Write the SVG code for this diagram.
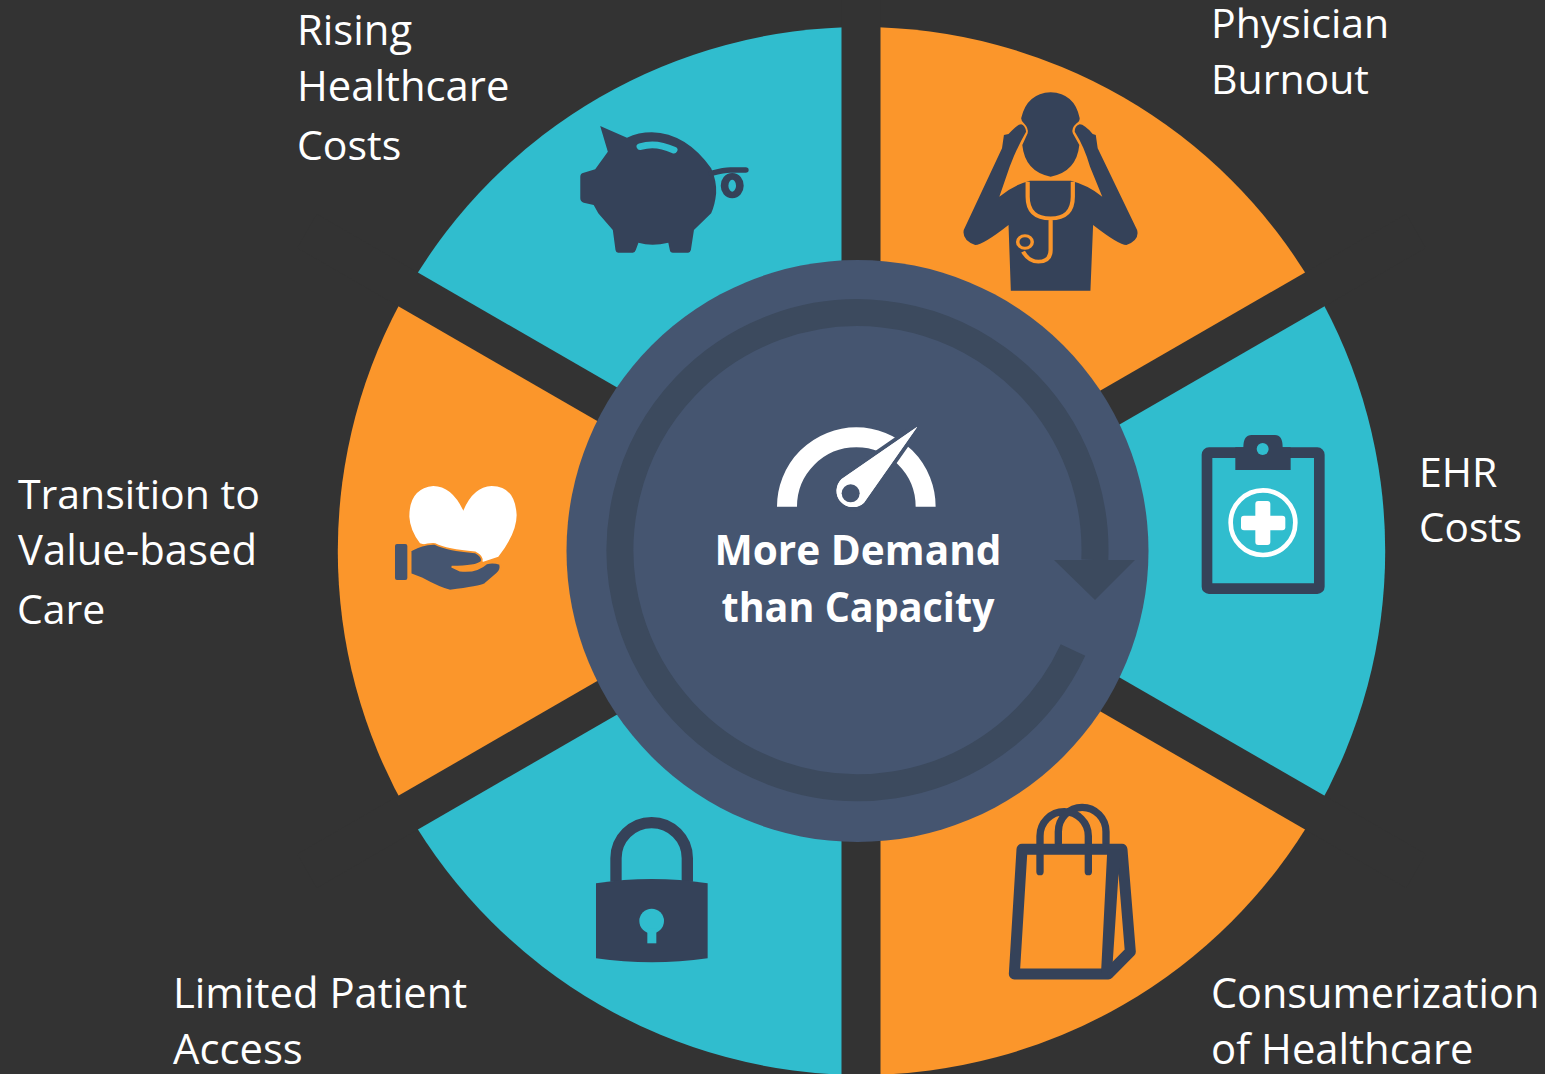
<svg xmlns="http://www.w3.org/2000/svg" width="1545" height="1074" viewBox="0 0 1545 1074">
<style>
text{font-family:"Open Sans","Noto Sans","Liberation Sans",sans-serif}
.lbl{font-size:41px;fill:#fff}
.wide{font-size:41.8px}
.ctr{font-size:41px;font-weight:700;fill:#fff;text-anchor:middle}
.teal{fill:#30BDCE}.org{fill:#FB962B}
.ink{fill:#354259}
.gap{stroke:#333;stroke-width:39}
</style>
<rect width="1545" height="1074" fill="#333"/>
<g id="wheel">
<path class="org" d="M861.5 27A524 524 0 0 1 1315 289L861.5 551Z"/>
<path class="teal" d="M1315 289A524 524 0 0 1 1315 813L861.5 551Z"/>
<path class="org" d="M1315 813A524 524 0 0 1 861.5 1075L861.5 551Z"/>
<path class="teal" d="M861.5 1075A524 524 0 0 1 408 813L861.5 551Z"/>
<path class="org" d="M408 813A524 524 0 0 1 408 289L861.5 551Z"/>
<path class="teal" d="M408 289A524 524 0 0 1 861.5 27L861.5 551Z"/>
<g class="gap"><line x1="861" y1="0" x2="861" y2="1074"/><line x1="307" y1="231" x2="1416" y2="871"/><line x1="307" y1="871" x2="1416" y2="231"/></g>
</g>
<g id="hub">
<circle cx="857.5" cy="551" r="291" fill="#455570"/>
<path d="M1094.8 560A237.5 237.500 0 1 0 1073 650" fill="none" stroke="#3C4A5E" stroke-width="27"/>
<path d="M1054 560H1135L1095 600Z" fill="#3C4A5E"/>
<g id="gauge" transform="translate(700 410) scale(.3333)">
<path d="M261 290A208 208 0 0 1 677 290" fill="none" stroke="#fff" stroke-width="60"/>
<path d="M652 50L425 207A48 48 0 1 0 492 278Z" fill="#fff" stroke="#455570" stroke-width="24" paint-order="stroke"/>
<path d="M652 50L425 207A48 48 0 1 0 492 278Z" fill="#fff"/>
<circle cx="452" cy="250" r="27" fill="#455570"/>
</g>
<text class="ctr" x="858" y="565" textLength="287" lengthAdjust="spacingAndGlyphs">More Demand</text>
<text class="ctr" x="858" y="622" textLength="273" lengthAdjust="spacingAndGlyphs">than Capacity</text>
</g>
<g id="node-costs">
<g transform="translate(560 90) scale(.3827 .3333)">
<path class="ink" d="M105 108L175 143Q205 127 240 127Q330 130 395 235Q410 275 408 310Q405 345 395 370L350 420L342 480Q340 488 335 488H295Q288 488 287 480L283 458Q240 470 205 458L198 480Q196 488 190 488H152Q146 488 145 480L138 420L100 370L88 345L62 338Q53 335 53 325V260Q53 250 62 248L92 238L125 185Z"/>
<path d="M210 170Q250 155 297 180" fill="none" stroke="#30BDCE" stroke-width="20" stroke-linecap="round"/>
<path d="M395 250Q430 240 445 240H485" fill="none" stroke="#354259" stroke-width="16" stroke-linecap="round"/>
<ellipse cx="450" cy="287" rx="20" ry="28" fill="none" stroke="#354259" stroke-width="20"/>
</g>
<text class="lbl wide" x="297" y="45">Rising</text><text class="lbl wide" x="297" y="101">Healthcare</text><text class="lbl" x="297" y="160">Costs</text>
</g>
<g id="node-burnout">
<g transform="translate(560 90) scale(.3827 .3333)">
<path class="ink" d="M1282 7Q1345 10 1358 85Q1358 95 1350 100Q1335 115 1340 130L1357 165Q1350 245 1282 260Q1215 245 1208 165L1222 130Q1225 115 1212 100Q1205 92 1205 85Q1220 10 1282 7Z"/>
<path class="ink" d="M1148 320L1175 230Q1195 170 1218 125Q1215 105 1205 103Q1195 103 1172 132L1160 135L1155 175L1055 420Q1050 450 1085 465Q1105 465 1172 405L1178 602H1386L1393 405Q1460 465 1480 465Q1515 450 1508 420L1405 175L1400 135L1392 132Q1370 103 1358 103Q1345 107 1345 125Q1370 170 1385 230L1417 320Q1380 285 1335 272H1228Q1185 285 1148 320Z"/>
<path d="M1222 275V320Q1222 385 1282 385Q1340 385 1340 320V275M1282 385V480Q1282 515 1250 515Q1225 515 1210 485" fill="none" stroke="#FB962B" stroke-width="11"/>
<circle cx="1215" cy="456" r="19" fill="#354259" stroke="#FB962B" stroke-width="9"/>
</g>
<text class="lbl" x="1211" y="38">Physician</text><text class="lbl" x="1211" y="94">Burnout</text>
</g>
<g id="node-ehr">
<g transform="translate(1180 420) scale(.3333)">
<rect x="81" y="98" width="337" height="408" rx="6" fill="none" stroke="#354259" stroke-width="32"/>
<path class="ink" d="M190 82Q190 45 215 45H285Q308 45 308 82H332V150H166V82Z"/>
<circle cx="248" cy="87" r="18" fill="#30BDCE"/>
<circle cx="249" cy="308" r="97" fill="none" stroke="#fff" stroke-width="14"/>
<rect x="183" y="287" width="133" height="44" rx="9" fill="#fff"/>
<rect x="226" y="243" width="45" height="132" rx="9" fill="#fff"/>
</g>
<text class="lbl" x="1419" y="487">EHR</text><text class="lbl" x="1419" y="542" style="font-size:40.6px">Costs</text>
</g>
<g id="node-consumerization">
<g transform="translate(990 790) scale(.3333)">
<path d="M205 160V125A71.500 73 0 0 1 348 125V160M150 245V138A72.500 73 0 0 1 295 138V245" fill="none" stroke="#354259" stroke-width="22" stroke-linecap="round"/>
<path d="M96 178H396L421 485L355 552H73Z" fill="none" stroke="#354259" stroke-width="33" stroke-linejoin="round"/>
<path class="ink" d="M352 178H400L385 262L368 520L350 552H333Z"/>
</g>
<text class="lbl" x="1211" y="1008" style="font-size:41.4px">Consumerization</text><text class="lbl wide" x="1211" y="1064">of Healthcare</text>
</g>
<g id="node-access">
<g transform="translate(580 800) scale(.3333)">
<path d="M108 245V175A107 107 0 0 1 322 175V245" fill="none" stroke="#354259" stroke-width="34"/>
<path class="ink" d="M48 250Q215 224 383 250V475Q215 499 48 475Z"/>
<circle cx="215" cy="363" r="37" fill="#30BDCE"/>
<rect x="202" y="385" width="27" height="45" fill="#30BDCE"/>
</g>
<text class="lbl wide" x="173" y="1008">Limited Patient</text><text class="lbl wide" x="173" y="1064">Access</text>
</g>
<g id="node-value">
<g transform="translate(380 420) scale(.3333)">
<path d="M250 272Q215 198 160 198Q88 205 88 290Q90 330 120 370L310 425L355 410Q410 340 410 285Q405 198 335 198Q280 200 250 272Z" fill="#fff"/>
<rect x="45" y="372" width="37" height="108" rx="6" fill="#455570"/>
<path d="M92 392Q130 370 165 372Q200 390 285 397Q310 410 305 425Q290 440 215 440L240 452Q290 458 320 430Q340 425 360 432Q365 450 350 462L315 492Q300 500 210 512Q180 505 125 475L92 462Z" fill="#455570" stroke="#FB962B" stroke-width="5"/>
</g>
<text class="lbl" x="18" y="509">Transition to</text><text class="lbl wide" x="18" y="565">Value-based</text><text class="lbl" x="17" y="624">Care</text>
</g>
</svg>
